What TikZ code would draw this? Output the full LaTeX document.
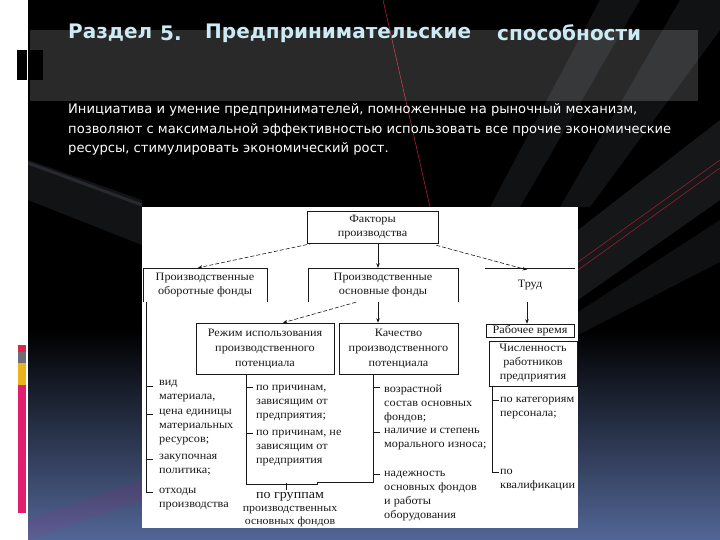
\documentclass[tikz,border=0pt]{standalone}
\usepackage{fontspec}
\setmainfont{Liberation Serif}
\newfontfamily\titlefont{DejaVu Sans}
\newfontfamily\parafont{DejaVu Sans}
\newfontfamily\diagfont[FakeStretch=1.08]{Liberation Serif}
\usetikzlibrary{arrows.meta}
\definecolor{titlecol}{RGB}{205,235,245}
\definecolor{botblue}{RGB}{82,102,150}
\definecolor{streak}{RGB}{170,180,200}
\definecolor{redline}{RGB}{170,30,50}
\definecolor{barred}{RGB}{220,40,70}
\definecolor{bargray}{RGB}{110,110,120}
\definecolor{baryel}{RGB}{235,180,30}
\definecolor{barpink}{RGB}{225,30,110}
\definecolor{ink}{RGB}{25,25,25}
\begin{document}
\begin{tikzpicture}[x=1pt,y=-1pt,
  diag/.style={font=\diagfont\fontsize{11.3}{14}\selectfont, text=ink},
  box/.style={diag, draw=ink, line width=0.6pt, align=center, inner sep=0pt},
  openbox/.style={diag, align=center, inner sep=0pt},
  item/.style={diag, align=left, anchor=west, inner sep=0pt},
  tree/.style={draw=ink, line width=0.6pt},
  arr/.style={draw=ink, line width=0.6pt, -{Stealth[length=4.5pt,width=3.5pt]}},
  darr/.style={arr, dash pattern=on 4pt off 2pt},
  ttl/.style={font=\titlefont\bfseries\fontsize{20}{24}\selectfont, text=titlecol, anchor=west, inner sep=0pt},
  para/.style={font=\parafont\fontsize{13.1}{16}\selectfont, text=white, anchor=west, inner sep=0pt}
]
\useasboundingbox (0,0) rectangle (720,540);
% slide background
\fill[white] (0,0) rectangle (28,540);
\fill[black] (28,0) rectangle (720,540);
\shade[top color=black, bottom color=botblue] (28,330) rectangle (720,540);
\fill[streak, opacity=0.10] (600,0) -- (640,0) -- (520,207) -- (490,207) -- cycle;
\fill[streak, opacity=0.10] (680,0) -- (720,0) -- (720,30) -- (590,207) -- (560,207) -- cycle;
\fill[streak, opacity=0.13] (720,120) -- (720,200) -- (578,300) -- (578,230) -- cycle;
\fill[streak, opacity=0.09] (720,220) -- (720,262) -- (578,335) -- (578,312) -- cycle;
\fill[streak, opacity=0.11] (28,160) -- (142,200) -- (142,245) -- (28,200) -- cycle;
\draw[streak, opacity=0.14, line width=3pt] (28,163) -- (142,205);
\fill[magenta, opacity=0.08] (28,520) -- (142,480) -- (142,500) -- (28,540) -- cycle;
\draw[redline, line width=0.6pt] (383,0) -- (430,207);
\draw[redline, line width=0.5pt] (720,160) -- (578,262);
\draw[redline, line width=0.5pt] (720,168) -- (578,270);
% title band and side marks
\fill[white, opacity=0.16] (30,30) rectangle (698,101);
\fill[black] (17,50) rectangle (27,80);
\fill[black] (30,50) rectangle (43,80);
\fill[barred] (18,345) rectangle (26,352);
\fill[bargray] (18,352) rectangle (26,363);
\fill[baryel] (18,363) rectangle (26,385);
\fill[barpink] (18,385) rectangle (26,513);
% title
\node[ttl] (t1) at (68,33) {Раздел};
\node[ttl] (t2) at (160,33) {5.};
\node[ttl] (t3) at (205,33) {Предпринимательские};
\node[ttl] (t4) at (497,33) {способности};
% paragraph
\node[para] (p1) at (68,110) {Инициатива и умение предпринимателей, помноженные на рыночный механизм,};
\node[para] (p2) at (68,130) {позволяют с максимальной эффективностью использовать все прочие экономические};
\node[para] (p3) at (68,149) {ресурсы, стимулировать экономический рост.};
% diagram sheet
\fill[white] (142,207) rectangle (578,528);
% boxes
\node[box, minimum width=131pt, minimum height=32pt] (fac) at (372.5,227) {Факторы\\производства};
\node[openbox, minimum width=124pt, minimum height=34pt] (obor) at (205,285) {Производственные\\оборотные фонды};
\node[openbox, minimum width=150pt, minimum height=34pt] (osn) at (383,285) {Производственные\\основные фонды};
\node[openbox, minimum width=90pt, minimum height=34pt] (trud) at (530,285) {Труд};
\draw[tree] (obor.south west) |- (obor.north east) -- (obor.south east);
\draw[tree] (osn.south west) |- (osn.north east) -- (osn.south east);
\draw[tree] (trud.north west) -- (trud.north east);
\node[box, minimum width=138pt, minimum height=51pt, font=\diagfont\fontsize{11.3}{15}\selectfont] (rez) at (265,348.5) {Режим использования\\производственного\\потенциала};
\node[box, minimum width=119pt, minimum height=51pt, font=\diagfont\fontsize{11.3}{15}\selectfont] (kach) at (398.5,348.5) {Качество\\производственного\\потенциала};
\node[box, minimum width=88pt, minimum height=13pt] (rab) at (530,330.5) {Рабочее время};
\node[box, minimum width=88pt, minimum height=45pt] (chis) at (533,363.5) {Численность\\работников\\предприятия};
% arrows
\draw[darr] ([xshift=-59.5pt]fac.south) -- ([xshift=-7pt]obor.north);
\draw[arr] ([xshift=5.5pt]fac.south) -- ([xshift=5.5pt]fac.south |- osn.north);
\draw[darr] ([xshift=-2pt,yshift=-2pt]fac.south east) -- ([xshift=-3pt,yshift=-2pt]trud.north);
\draw[darr] ([xshift=-27pt]osn.south) -- ([xshift=18pt]rez.north);
\draw[arr] ([xshift=-5pt]osn.south) -- ([xshift=-5pt]osn.south |- kach.north);
\draw[arr] ([xshift=-3pt]trud.south) -- ([xshift=-3pt]trud.south |- rab.north);
% left list
\draw[tree] (146,302) -- (146,492) -- (153,492);
\draw[tree] (146,386) -- (153,386);
\draw[tree] (146,414) -- (153,414);
\draw[tree] (146,459) -- (153,459);
\node[item] (l1) at (159,391.5) {вид\\материала,};
\node[item] (l2) at (159,427) {цена единицы\\материальных\\ресурсов;};
\node[item] (l3) at (159,465) {закупочная\\политика;};
\node[item] (l4) at (159,499.5) {отходы\\производства};
% middle lists
\draw[tree] (246,374) -- (246,484) -- (317,484) -- (317,482) -- (373,482) -- (373,374);
\draw[tree] (246,387) -- (253,387);
\draw[tree] (246,433) -- (253,433);
\draw[tree] (286,483) -- (286,490);
\node[item] (m1) at (256,403) {по причинам,\\зависящим от\\предприятия;};
\node[item] (m2) at (256,448) {по причинам, не\\зависящим от\\предприятия};
\node[diag, align=center, inner sep=0pt, font=\diagfont\fontsize{11}{13}\selectfont] (grp) at (290,510) {{\fontsize{13}{13}\selectfont по группам}\\производственных\\основных фондов};
\draw[tree] (373,387) -- (380,387);
\draw[tree] (373,432) -- (380,432);
\draw[tree] (373,474) -- (380,474);
\node[item] (r1) at (384,404) {возрастной\\состав основных\\фондов;};
\node[item] (r2) at (384,439.5) {наличие и степень\\морального износа;};
\node[item] (r3) at (384,496) {надежность\\основных фондов\\и работы\\оборудования};
% right list
\draw[tree] (492,386) -- (492,472) -- (499,472);
\draw[tree] (492,400) -- (499,400);
\node[item] (q1) at (500,408) {по категориям\\персонала;};
\node[item] (q2) at (500,480) {по\\квалификации};
\end{tikzpicture}
\end{document}
